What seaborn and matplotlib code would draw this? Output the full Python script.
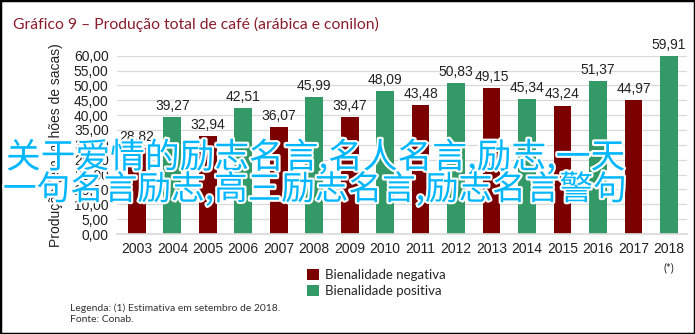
import matplotlib
matplotlib.use("Agg")
import matplotlib.pyplot as plt
import matplotlib.patheffects as pe
import matplotlib.transforms as mtransforms
from matplotlib.patches import Rectangle
import seaborn as sns
import pandas as pd

years = ["2003", "2004", "2005", "2006", "2007", "2008", "2009", "2010",
         "2011", "2012", "2013", "2014", "2015", "2016", "2017", "2018"]
production = [28.82, 39.27, 32.94, 42.51, 36.07, 45.99, 39.47, 48.09,
              43.48, 50.83, 49.15, 45.34, 43.24, 51.37, 44.97, 59.91]
biennial = ["Bienalidade negativa", "Bienalidade positiva"] * 8
categories = ["Bienalidade negativa", "Bienalidade positiva"]
palette = {"Bienalidade negativa": "#7b0000", "Bienalidade positiva": "#339966"}
yticks = [0, 5, 10, 15, 20, 25, 30, 35, 40, 45, 50, 55, 60]

title = "Gráfico 9 – Produção total de café (arábica e conilon)"
ylabel = "Produção (em milhões de sacas)"
caption = "Legenda: (1) Estimativa em setembro de 2018.\nFonte: Conab."
watermark1 = "关于爱情的励志名言,名人名言,励志,一天"
watermark2 = "一句名言励志,高三励志名言,励志名言警句"

df = pd.DataFrame({"ano": years, "producao": production, "bienalidade": biennial})

sns.set_theme(style="white")
plt.rcParams["font.family"] = ["Liberation Sans", "DejaVu Sans"]

fig = plt.figure(figsize=(6.95, 3.34), dpi=100)
ax = fig.add_axes([117 / 695, 1 - 234 / 334, (687 - 117) / 695, (234 - 55.7) / 334])

sns.barplot(data=df, x="ano", y="producao", hue="bienalidade", hue_order=categories,
            palette=palette, dodge=False, width=0.5, ax=ax, saturation=1,
            linewidth=0, legend=True)

ax.set_ylim(0, 60)
ax.set_xlim(-0.56, 15.51)
ax.set_yticks(yticks)
ax.set_yticklabels([f"{v:.2f}".replace(".", ",") for v in yticks], fontsize=10, color="#222222")
ax.tick_params(axis="x", labelsize=10, colors="#222222", length=0, pad=6)
ax.tick_params(axis="y", length=0, pad=6)
ax.grid(axis="y", color="#d9d9d9", linewidth=0.9)
ax.set_axisbelow(True)
for s in ["top", "right", "left"]:
    ax.spines[s].set_visible(False)
ax.spines["bottom"].set_color("#d9d9d9")
ax.set_xlabel("")
ax.set_ylabel(ylabel, fontsize=10, color="#222222", labelpad=8)

for container in ax.containers:
    ax.bar_label(container, labels=[f"{v:.2f}".replace(".", ",") if v == v else "" for v in container.datavalues],
                 fontsize=10, color="#222222", padding=3, clip_on=False)

trans = mtransforms.blended_transform_factory(ax.transData, fig.transFigure)
ax.text(15, 1 - 268 / 334, "(*)", transform=trans, ha="center", va="center",
        fontsize=8, color="#222222", family=["Lato", "DejaVu Sans"])

handles, labels = ax.get_legend_handles_labels()
ax.legend_.remove()
fig.legend(handles, labels, loc="upper left", bbox_to_anchor=(295 / 695, 1 - 257 / 334),
           frameon=False, handlelength=0.9, handleheight=0.9, handletextpad=0.45,
           labelspacing=0.3, prop={"family": "Lato", "size": 9.5})

fig.text(13 / 695, 1 - 24 / 334, title, fontsize=11.3, color="#8a1c2b",
         family=["Lato", "DejaVu Sans"], va="center", ha="left")
fig.text(70 / 695, 1 - 314 / 334, caption, fontsize=7.5, color="#333333",
         family=["Lato", "DejaVu Sans"], va="center", ha="left", linespacing=1.25)

wm_kw = dict(color="#00b7ff", family=["Noto Sans CJK SC", "DejaVu Sans"],
             ha="left", va="center",
             path_effects=[pe.withStroke(linewidth=3, foreground="white")])
fig.text(6 / 695, 1 - 158 / 334, watermark1, fontsize=25, **wm_kw)
fig.text(3 / 695, 1 - 190 / 334, watermark2, fontsize=24.2, **wm_kw)

fig.patches.append(Rectangle((0, 0), 1, 1, transform=fig.transFigure, fill=False,
                             edgecolor="black", linewidth=2.5))

fig.savefig("out.png", dpi=100)
